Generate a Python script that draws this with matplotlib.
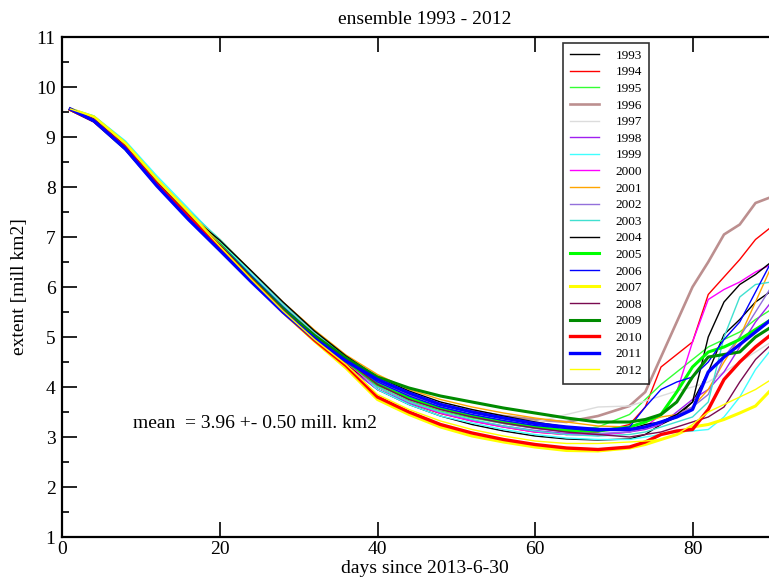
import matplotlib
matplotlib.use("Agg")
import matplotlib.pyplot as plt
from matplotlib.ticker import MultipleLocator

plt.rcParams['font.family'] = ['Liberation Serif', 'DejaVu Serif']

days = [1, 4, 8, 12, 16, 20, 24, 28, 32, 36, 40, 44, 48, 52, 56, 60, 64, 68,
        72, 74, 76, 78, 80, 82, 84, 86, 88, 90, 92]

years = [1993, 1994, 1995, 1996, 1997, 1998, 1999, 2000, 2001, 2002,
         2003, 2004, 2005, 2006, 2007, 2008, 2009, 2010, 2011, 2012]

ext_1993 = [9.56, 9.36, 8.82, 8.10, 7.45, 6.80, 6.15, 5.53, 4.97, 4.47,
            3.95, 3.65, 3.42, 3.25, 3.12, 3.02, 2.96, 2.94,
            2.96, 3.05, 3.25, 3.40, 3.70, 4.30, 5.05, 5.35, 5.70, 5.92, 6.05]
ext_1994 = [9.55, 9.33, 8.79, 8.07, 7.42, 6.82, 6.17, 5.55, 4.99, 4.49,
            3.95, 3.68, 3.47, 3.32, 3.20, 3.10, 3.05, 3.10,
            3.25, 3.60, 4.40, 4.65, 4.90, 5.85, 6.20, 6.55, 6.95, 7.20, 7.35]
ext_1995 = [9.56, 9.39, 8.85, 8.13, 7.48, 6.85, 6.20, 5.58, 5.02, 4.52,
            4.00, 3.72, 3.52, 3.38, 3.27, 3.18, 3.12, 3.20,
            3.45, 3.75, 4.05, 4.30, 4.55, 4.80, 4.95, 5.10, 5.35, 5.55, 5.70]
ext_1996 = [9.56, 9.36, 8.82, 8.10, 7.45, 6.88, 6.23, 5.61, 5.05, 4.56,
            4.10, 3.85, 3.65, 3.52, 3.42, 3.35, 3.30, 3.42,
            3.62, 3.90, 4.60, 5.30, 6.00, 6.50, 7.05, 7.25, 7.68, 7.80, 7.85]
ext_1997 = [9.56, 9.38, 8.84, 8.12, 7.47, 6.85, 6.20, 5.58, 5.02, 4.52,
            4.05, 3.80, 3.60, 3.45, 3.35, 3.30, 3.45, 3.60,
            3.62, 3.72, 3.82, 3.92, 4.00, 4.10, 4.30, 4.50, 4.70, 4.90, 5.00]
ext_1998 = [9.55, 9.34, 8.80, 8.08, 7.40, 6.76, 6.10, 5.47, 4.91, 4.42,
            3.95, 3.68, 3.48, 3.33, 3.22, 3.13, 3.07, 3.05,
            3.10, 3.15, 3.25, 3.50, 3.75, 3.95, 4.30, 4.80, 5.30, 5.70, 5.90]
ext_1999 = [9.57, 9.42, 8.92, 8.22, 7.57, 6.92, 6.25, 5.62, 5.05, 4.53,
            3.95, 3.65, 3.42, 3.28, 3.15, 3.05, 2.98, 2.95,
            2.95, 3.00, 3.05, 3.10, 3.12, 3.15, 3.40, 3.80, 4.35, 4.75, 5.00]
ext_2000 = [9.56, 9.38, 8.84, 8.12, 7.46, 6.82, 6.17, 5.55, 4.99, 4.49,
            4.00, 3.70, 3.48, 3.32, 3.20, 3.10, 3.05, 3.03,
            3.10, 3.20, 3.45, 3.90, 4.90, 5.75, 5.95, 6.10, 6.30, 6.45, 6.55]
ext_2001 = [9.56, 9.36, 8.82, 8.10, 7.47, 6.95, 6.32, 5.70, 5.14, 4.64,
            4.25, 3.95, 3.75, 3.60, 3.48, 3.38, 3.30, 3.22,
            3.20, 3.30, 3.40, 3.45, 3.60, 3.95, 4.50, 5.00, 5.70, 6.40, 6.70]
ext_2002 = [9.56, 9.36, 8.82, 8.10, 7.45, 6.85, 6.20, 5.58, 5.02, 4.52,
            4.05, 3.75, 3.55, 3.40, 3.27, 3.17, 3.10, 3.07,
            3.10, 3.20, 3.30, 3.45, 3.60, 3.85, 4.60, 5.00, 5.50, 6.00, 6.20]
ext_2003 = [9.57, 9.42, 8.90, 8.18, 7.53, 6.95, 6.30, 5.67, 5.10, 4.60,
            4.00, 3.70, 3.50, 3.35, 3.22, 3.12, 3.05, 3.02,
            3.05, 3.10, 3.20, 3.30, 3.40, 3.70, 5.00, 5.80, 6.05, 6.10, 6.20]
ext_2004 = [9.56, 9.36, 8.82, 8.10, 7.45, 6.93, 6.32, 5.70, 5.12, 4.62,
            4.20, 3.92, 3.70, 3.55, 3.42, 3.30, 3.20, 3.15,
            3.15, 3.25, 3.30, 3.45, 3.70, 5.00, 5.70, 6.05, 6.25, 6.50, 6.60]
ext_2005 = [9.55, 9.33, 8.79, 8.07, 7.42, 6.85, 6.20, 5.58, 5.02, 4.52,
            4.05, 3.78, 3.58, 3.42, 3.30, 3.20, 3.13, 3.12,
            3.20, 3.30, 3.45, 3.90, 4.40, 4.70, 4.80, 4.95, 5.15, 5.35, 5.50]
ext_2006 = [9.55, 9.32, 8.78, 8.06, 7.41, 6.85, 6.22, 5.60, 5.04, 4.55,
            4.10, 3.82, 3.60, 3.45, 3.33, 3.23, 3.17, 3.12,
            3.20, 3.60, 3.95, 4.10, 4.20, 4.50, 4.95, 5.30, 5.90, 6.50, 6.70]
ext_2007 = [9.56, 9.40, 8.87, 8.15, 7.50, 6.82, 6.14, 5.50, 4.92, 4.38,
            3.75, 3.45, 3.20, 3.02, 2.90, 2.80, 2.73, 2.72,
            2.78, 2.85, 2.95, 3.05, 3.20, 3.25, 3.35, 3.48, 3.62, 3.95, 4.20]
ext_2008 = [9.56, 9.36, 8.82, 8.10, 7.45, 6.84, 6.19, 5.57, 5.02, 4.54,
            4.05, 3.75, 3.55, 3.40, 3.28, 3.18, 3.10, 3.05,
            3.00, 3.05, 3.10, 3.20, 3.30, 3.40, 3.60, 4.10, 4.55, 4.85, 5.00]
ext_2009 = [9.55, 9.32, 8.76, 8.04, 7.39, 6.80, 6.17, 5.56, 5.03, 4.58,
            4.20, 3.98, 3.82, 3.70, 3.58, 3.48, 3.38, 3.30,
            3.30, 3.35, 3.45, 3.70, 4.20, 4.60, 4.65, 4.70, 5.00, 5.20, 5.35]
ext_2010 = [9.55, 9.32, 8.78, 8.05, 7.40, 6.79, 6.14, 5.51, 4.94, 4.43,
            3.80, 3.50, 3.25, 3.08, 2.95, 2.85, 2.78, 2.75,
            2.80, 2.90, 3.05, 3.12, 3.15, 3.55, 4.15, 4.50, 4.80, 5.05, 5.25]
ext_2011 = [9.56, 9.32, 8.76, 8.02, 7.35, 6.73, 6.10, 5.50, 4.97, 4.52,
            4.15, 3.88, 3.65, 3.50, 3.38, 3.27, 3.20, 3.15,
            3.15, 3.20, 3.30, 3.40, 3.55, 4.30, 4.60, 4.85, 5.10, 5.35, 5.50]
ext_2012 = [9.56, 9.40, 8.86, 8.14, 7.49, 6.81, 6.15, 5.52, 4.95, 4.45,
            3.85, 3.55, 3.32, 3.15, 3.02, 2.92, 2.87, 2.87,
            2.90, 2.92, 2.95, 3.05, 3.25, 3.50, 3.65, 3.80, 3.95, 4.15, 4.30]

series = [ext_1993, ext_1994, ext_1995, ext_1996, ext_1997, ext_1998, ext_1999,
          ext_2000, ext_2001, ext_2002, ext_2003, ext_2004, ext_2005, ext_2006,
          ext_2007, ext_2008, ext_2009, ext_2010, ext_2011, ext_2012]

colors = ['black', '#ff0000', '#33ff33', '#bc8f8f', '#dcdcdc', '#a020f0',
          '#40ffff', '#ff00ff', '#ffa500', '#9370db', '#40e0d0', 'black',
          '#00ff00', '#0000ff', '#ffff00', '#7a0a50', '#008b00', '#ff0000',
          '#0000ff', '#ffff00']
widths = [1.0, 1.0, 1.0, 1.9, 1.0, 1.0, 1.0, 1.0, 1.0, 1.0,
          1.0, 1.0, 2.2, 1.0, 2.2, 1.0, 2.2, 2.4, 2.4, 1.0]

W, H = 769, 585
fig = plt.figure(figsize=(W / 100, H / 100), dpi=100)
ax = fig.add_axes([62.5 / W, 48 / H, 724.5 / W, 500 / H])

for yr, vals, c, lw in zip(years, series, colors, widths):
    ax.plot(days, vals, color=c, lw=lw, label=str(yr), solid_joinstyle='round')

ax.set_xlim(0, 92)
ax.set_ylim(1, 11)
ax.xaxis.set_major_locator(MultipleLocator(20))
ax.yaxis.set_major_locator(MultipleLocator(1))
ax.yaxis.set_minor_locator(MultipleLocator(0.5))
ax.tick_params(which='major', direction='in', length=10.5, width=1.2,
               top=True, right=True, labelsize=14)
ax.tick_params(axis='x', which='major', pad=3)
ax.tick_params(axis='y', which='major', pad=5)
ax.tick_params(which='minor', direction='in', length=5.2, width=1.2,
               top=False, right=True)
for s in ax.spines.values():
    s.set_linewidth(1.6)

ax.set_title('ensemble 1993 - 2012', fontsize=14, pad=9)
ax.set_xlabel('days since 2013-6-30', fontsize=14, labelpad=1)
ax.set_ylabel('extent [mill km2]', fontsize=14, labelpad=6)

ax.text(9.0, 3.26, 'mean  = 3.96 +- 0.50 mill. km2', fontsize=14, va='center')

leg = ax.legend(loc='upper left', bbox_to_anchor=(0.691, 0.988), fontsize=9.5,
                frameon=True, fancybox=False, edgecolor='black',
                handlelength=2.2, handletextpad=1.3, labelspacing=0.33,
                borderpad=0.5, borderaxespad=0)
leg.get_frame().set_linewidth(1.2)

fig.savefig('out.png', dpi=100)
